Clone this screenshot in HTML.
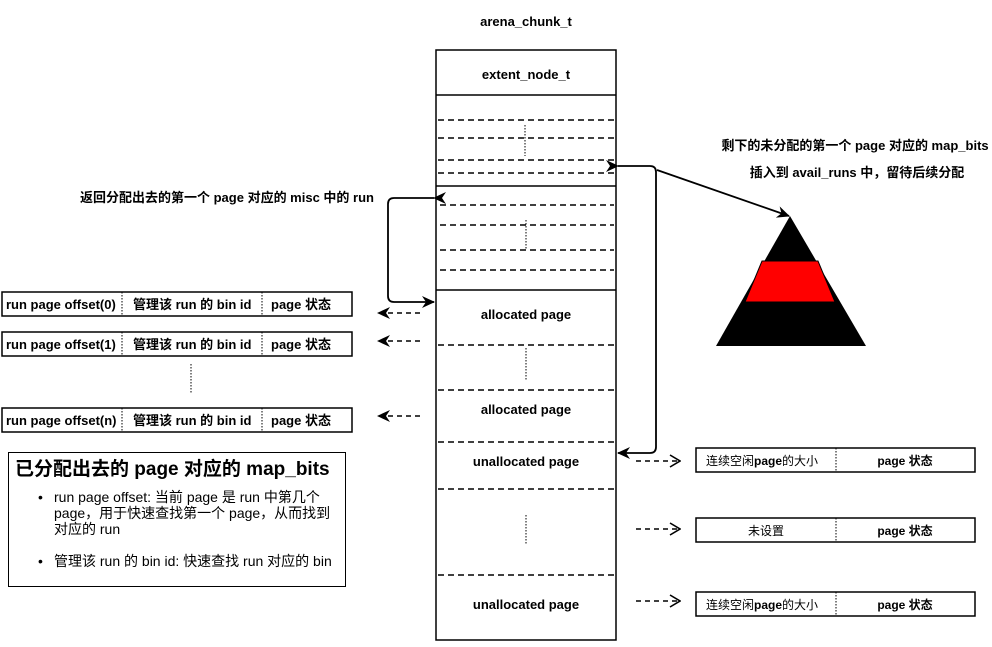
<!DOCTYPE html>
<html><head><meta charset="utf-8"><style>
body{margin:0;width:992px;height:642px;background:#fff;overflow:hidden}
svg text{font-family:"Liberation Sans","Noto Sans CJK SC",sans-serif;fill:#000}
.b{font-weight:bold}
</style></head><body>
<svg width="992" height="642" xmlns="http://www.w3.org/2000/svg" font-size="13">
<defs>
<marker id="ah" markerWidth="13" markerHeight="12" refX="12" refY="6" orient="auto" markerUnits="userSpaceOnUse">
<path d="M0,0 L13,6 L0,12 L4,6 Z" fill="#000"/></marker>
<marker id="oa" markerWidth="12" markerHeight="14" refX="11" refY="7" orient="auto" markerUnits="userSpaceOnUse">
<path d="M1,1 L11,7 L1,13" fill="none" stroke="#000" stroke-width="1.6"/></marker>
</defs>
<text x="526" y="26" text-anchor="middle" class="b">arena_chunk_t</text>
<g stroke="#000" stroke-width="1.5" fill="none">
<rect x="436" y="50" width="180" height="590"/>
<line x1="436" y1="95" x2="616" y2="95"/>
<line x1="436" y1="186" x2="616" y2="186"/>
<line x1="436" y1="290" x2="616" y2="290"/>
</g>
<text x="526" y="79" text-anchor="middle" class="b">extent_node_t</text>
<g stroke="#000" stroke-width="1.5" stroke-dasharray="6,4" fill="none">
<line x1="438" y1="120" x2="614" y2="120"/><line x1="438" y1="138" x2="614" y2="138"/>
<line x1="438" y1="160" x2="614" y2="160"/><line x1="438" y1="173" x2="614" y2="173"/>
<line x1="440" y1="205" x2="614" y2="205"/><line x1="440" y1="225" x2="614" y2="225"/>
<line x1="440" y1="250" x2="614" y2="250"/><line x1="440" y1="270" x2="614" y2="270"/>
<line x1="438" y1="345" x2="614" y2="345"/><line x1="438" y1="390" x2="614" y2="390"/>
<line x1="438" y1="442" x2="614" y2="442"/><line x1="438" y1="489" x2="614" y2="489"/>
<line x1="438" y1="575" x2="614" y2="575"/>
</g>
<g stroke="#000" stroke-width="1" stroke-dasharray="1.5,1.5">
<line x1="525" y1="125" x2="525" y2="156"/><line x1="526" y1="220" x2="526" y2="250"/>
<line x1="526" y1="348" x2="526" y2="380"/><line x1="526" y1="515" x2="526" y2="545"/>
<line x1="191" y1="364" x2="191" y2="394"/>
</g>
<text x="526" y="319" text-anchor="middle" class="b">allocated page</text>
<text x="526" y="414" text-anchor="middle" class="b">allocated page</text>
<text x="526" y="466" text-anchor="middle" class="b">unallocated page</text>
<text x="526" y="609" text-anchor="middle" class="b">unallocated page</text>
<path d="M434,198 L394,198 Q388,198 388,204 L388,296 Q388,302 394,302 L434,302" fill="none" stroke="#000" stroke-width="1.8" marker-start="url(#ah)" marker-end="url(#ah)"/>
<text x="80" y="202" class="b">返回分配出去的第一个 page 对应的 misc 中的 run</text>
<path d="M618,166 L650,166 Q656,166 656,172 L656,447 Q656,453 650,453 L618,453" fill="none" stroke="#000" stroke-width="1.8" marker-start="url(#ah)" marker-end="url(#ah)"/>
<line x1="657" y1="170" x2="789" y2="216" stroke="#000" stroke-width="1.8" marker-end="url(#ah)"/>
<text x="855" y="150" text-anchor="middle" class="b">剩下的未分配的第一个 page 对应的 map_bits</text>
<text x="857" y="177" text-anchor="middle" class="b">插入到 avail_runs 中，留待后续分配</text>
<polygon points="790,216 866,346 716,346" fill="#000"/>
<polygon points="762,261 818,261 835,302 745,302" fill="#f00" stroke="#000" stroke-width="1"/>
<g stroke="#000" stroke-width="1.5" stroke-dasharray="5,4" fill="none">
<line x1="420" y1="313" x2="378" y2="313" marker-end="url(#ah)"/>
<line x1="420" y1="341" x2="378" y2="341" marker-end="url(#ah)"/>
<line x1="420" y1="416" x2="378" y2="416" marker-end="url(#ah)"/>
<line x1="636" y1="461" x2="680" y2="461" marker-end="url(#oa)"/>
<line x1="636" y1="529" x2="680" y2="529" marker-end="url(#oa)"/>
<line x1="636" y1="601" x2="680" y2="601" marker-end="url(#oa)"/>
</g>
<g stroke="#000" stroke-width="1.5" fill="none">
<rect x="2" y="292" width="350" height="24"/><rect x="2" y="332" width="350" height="24"/><rect x="2" y="408" width="350" height="24"/>
<rect x="696" y="448" width="279" height="24"/><rect x="696" y="518" width="279" height="24"/><rect x="696" y="592" width="279" height="24"/>
<rect x="8.5" y="452.5" width="337" height="134" stroke-width="1"/>
</g>
<g stroke="#000" stroke-width="1" stroke-dasharray="1.5,1.5">
<line x1="122" y1="292" x2="122" y2="316"/><line x1="262" y1="292" x2="262" y2="316"/>
<line x1="122" y1="332" x2="122" y2="356"/><line x1="262" y1="332" x2="262" y2="356"/>
<line x1="122" y1="408" x2="122" y2="432"/><line x1="262" y1="408" x2="262" y2="432"/>
<line x1="836" y1="448" x2="836" y2="472"/><line x1="836" y1="518" x2="836" y2="542"/><line x1="836" y1="592" x2="836" y2="616"/>
</g>
<text x="6" y="309" class="b">run page offset(0)</text><text x="133" y="309" class="b">管理该 run 的 bin id</text><text x="271" y="309" class="b">page 状态</text>
<text x="6" y="349" class="b">run page offset(1)</text><text x="133" y="349" class="b">管理该 run 的 bin id</text><text x="271" y="349" class="b">page 状态</text>
<text x="6" y="425" class="b">run page offset(n)</text><text x="133" y="425" class="b">管理该 run 的 bin id</text><text x="271" y="425" class="b">page 状态</text>
<g font-size="12">
<text x="706" y="465">连续空闲<tspan class="b">page</tspan>的大小</text><text x="905" y="465" text-anchor="middle" class="b">page 状态</text>
<text x="766" y="535" text-anchor="middle">未设置</text><text x="905" y="535" text-anchor="middle" class="b">page 状态</text>
<text x="706" y="609">连续空闲<tspan class="b">page</tspan>的大小</text><text x="905" y="609" text-anchor="middle" class="b">page 状态</text>
</g>
<text x="15" y="475" class="b" font-size="19">已分配出去的 page 对应的 map_bits</text>
<g font-size="14">
<text x="38" y="502">•</text><text x="54" y="502">run page offset: 当前 page 是 run 中第几个</text>
<text x="54" y="518">page，用于快速查找第一个 page，从而找到</text>
<text x="54" y="534">对应的 run</text>
<text x="38" y="566">•</text><text x="54" y="566">管理该 run 的 bin id: 快速查找 run 对应的 bin</text>
</g>
</svg>
</body></html>
